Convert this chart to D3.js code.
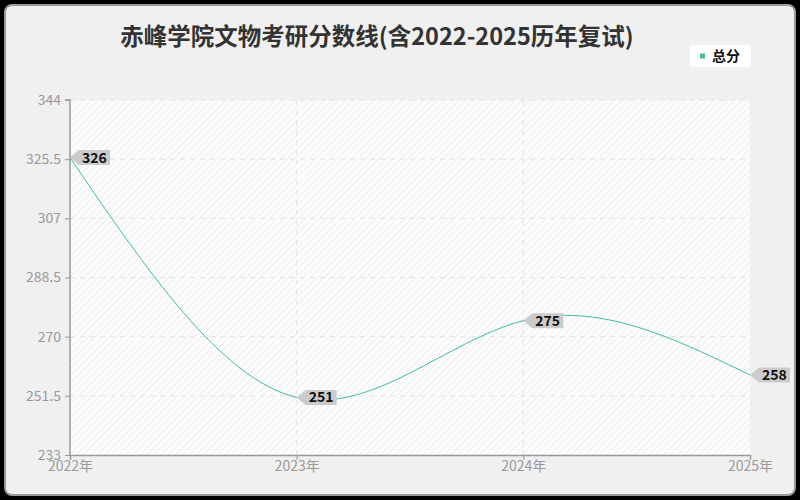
<!DOCTYPE html>
<html>
<head>
<meta charset="utf-8">
<script src="https://cdn.jsdelivr.net/npm/d3@7"></script>
<style>
  html, body { margin: 0; padding: 0; background: #000; }
  svg { display: block; font-family: "Noto Sans CJK SC", "Noto Sans", sans-serif; }
</style>
</head>
<body>
<svg id="chart"></svg>
<script>
const years = ["2022年", "2023年", "2024年", "2025年"];
const scores = [326, 251, 275, 258];
const yTicks = [233, 251.5, 270, 288.5, 307, 325.5, 344];
const seriesName = "总分";
const title = "赤峰学院文物考研分数线(含2022-2025历年复试)";

const width = 800;
const height = 500;
const margin = { top: 100, right: 50, bottom: 45, left: 70 };
const lineColor = "#3dbf95";

const svg = d3.select("#chart").attr("width", width).attr("height", height);

// card background
svg.append("rect")
  .attr("x", 5).attr("y", 5)
  .attr("width", 790).attr("height", 490)
  .attr("rx", 7)
  .attr("fill", "#f0f0f0")
  .attr("stroke", "#999")
  .attr("stroke-width", 2);

const defs = svg.append("defs");
const pat = defs.append("pattern")
  .attr("id", "hatch")
  .attr("patternUnits", "userSpaceOnUse")
  .attr("width", 5).attr("height", 5)
  .attr("patternTransform", "rotate(45)");
pat.append("rect").attr("width", 5).attr("height", 5).attr("fill", "#fcfcfc");
pat.append("line")
  .attr("x1", 0).attr("y1", 0).attr("x2", 0).attr("y2", 5)
  .attr("stroke", "#eeeeee").attr("stroke-width", 2);

const x = d3.scalePoint()
  .domain(years)
  .range([margin.left, width - margin.right]);

const y = d3.scaleLinear()
  .domain([233, 344])
  .range([height - margin.bottom, margin.top]);

// plot background
svg.append("rect")
  .attr("x", margin.left).attr("y", margin.top)
  .attr("width", width - margin.left - margin.right)
  .attr("height", height - margin.top - margin.bottom)
  .attr("fill", "url(#hatch)");

// grid
svg.append("g")
  .selectAll("line")
  .data(yTicks.slice(1))
  .join("line")
  .attr("x1", margin.left).attr("x2", width - margin.right)
  .attr("y1", d => y(d)).attr("y2", d => y(d))
  .attr("stroke", "#e2e2e2")
  .attr("stroke-dasharray", "5,5");

svg.append("g")
  .selectAll("line")
  .data(years.slice(1, -1))
  .join("line")
  .attr("x1", d => x(d)).attr("x2", d => x(d))
  .attr("y1", margin.top).attr("y2", height - margin.bottom)
  .attr("stroke", "#e2e2e2")
  .attr("stroke-dasharray", "5,5");

// axes
const yAxis = svg.append("g")
  .attr("transform", `translate(${margin.left},0)`)
  .call(d3.axisLeft(y).tickValues(yTicks).tickSize(5).tickPadding(4).tickFormat(d => d));
const xAxis = svg.append("g")
  .attr("transform", `translate(0,${height - margin.bottom})`)
  .call(d3.axisBottom(x).tickSize(5).tickPadding(1));

[yAxis, xAxis].forEach(g => {
  g.select(".domain").attr("stroke", "#999").attr("stroke-width", 1.5);
  g.selectAll(".tick line").attr("stroke", "#999");
  g.selectAll(".tick text")
    .attr("fill", "#999")
    .style("font-size", "14px")
    .style("font-family", "\"Noto Sans CJK SC\", sans-serif");
});
yAxis.select(".domain").attr("d", `M${-5},${margin.top}H0V${height - margin.bottom}`);

// line
const line = d3.line()
  .x((d, i) => x(years[i]))
  .y(d => y(d))
  .curve(d3.curveNatural);

svg.append("path")
  .datum(scores)
  .attr("d", line)
  .attr("fill", "none")
  .attr("stroke", lineColor)
  .attr("stroke-width", 1);

// value tags
const tags = svg.append("g")
  .selectAll("g")
  .data(scores)
  .join("g")
  .attr("transform", (d, i) => `translate(${x(years[i])},${y(d)})`);

tags.append("path")
  .attr("d", "M0,0L9,-7.5H40V7.5H9Z")
  .attr("fill", "#cbcbcb");

tags.append("text")
  .attr("x", 12)
  .attr("y", 5)
  .attr("fill", "#111")
  .style("font-size", "14px")
  .style("font-weight", "bold")
  .text(d => d);

// title
svg.append("text")
  .attr("x", 377)
  .attr("y", 45)
  .attr("text-anchor", "middle")
  .attr("fill", "#333")
  .style("font-size", "23.5px")
  .style("font-weight", "bold")
  .text(title);

// legend
const legend = svg.append("g").attr("transform", "translate(690,45)");
legend.append("rect")
  .attr("width", 61).attr("height", 22).attr("rx", 4)
  .attr("fill", "#fff");
legend.append("rect")
  .attr("x", 10).attr("y", 8.5).attr("width", 5).attr("height", 5)
  .attr("fill", lineColor);
legend.append("text")
  .attr("x", 22).attr("y", 16)
  .attr("fill", "#111")
  .style("font-size", "14px")
  .style("font-weight", "bold")
  .text(seriesName);
</script>
</body>
</html>
